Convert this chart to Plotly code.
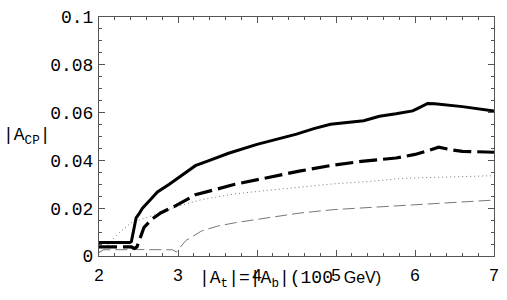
import plotly.graph_objects as go

# ---- data ----
solid_x = [2.0, 2.39, 2.41, 2.43, 2.45, 2.47, 2.51, 2.55, 2.65, 2.74, 2.89, 3.0, 3.22, 3.4, 3.64,
           4.0, 4.5, 4.72, 4.93, 5.35, 5.55, 5.76, 5.97, 6.03, 6.1, 6.16, 6.25, 6.4, 6.6, 7.0]
solid_y = [0.0056, 0.0056, 0.006, 0.0093, 0.013, 0.016, 0.0178, 0.020, 0.0235, 0.0268, 0.030, 0.0326,
           0.0378, 0.040, 0.043, 0.0467, 0.051, 0.0533, 0.0551, 0.0566, 0.0585, 0.0595, 0.0607,
           0.0617, 0.0628, 0.0638, 0.0637, 0.0633, 0.0625, 0.0607]

thick_dash_x = [2.0, 2.41, 2.45, 2.48, 2.51, 2.54, 2.57, 2.67, 2.78, 2.95, 3.22, 3.72, 4.14, 4.55,
                4.96, 5.35, 5.76, 6.0, 6.18, 6.3, 6.47, 6.6, 7.0]
thick_dash_y = [0.0038, 0.0038, 0.0032, 0.0038, 0.0065, 0.0093, 0.012, 0.0154, 0.018, 0.0207, 0.0256,
                0.030, 0.033, 0.0356, 0.038, 0.0397, 0.041, 0.0425, 0.0442, 0.0455, 0.0444, 0.0438, 0.0434]

dotted_x = [2.0, 2.04, 2.24, 2.41, 2.66, 2.99, 3.3, 3.72, 4.14, 4.55, 4.97, 5.43, 5.85, 6.26, 7.0]
dotted_y = [0.0015, 0.0022, 0.0093, 0.014, 0.0167, 0.0207, 0.0236, 0.026, 0.0275, 0.0289, 0.0302,
            0.0312, 0.0325, 0.0329, 0.0336]

thin_dash_x = [2.0, 2.06, 2.5, 2.93, 2.98, 3.1, 3.2, 3.3, 3.5, 3.72, 4.14, 4.55, 4.97, 5.43, 5.85, 6.26, 7.0]
thin_dash_y = [0.0015, 0.0026, 0.0027, 0.0026, 0.0017, 0.0065, 0.0085, 0.0105, 0.0125, 0.0139, 0.016,
               0.018, 0.0194, 0.0203, 0.0211, 0.022, 0.0234]

x_ticks = [2, 3, 4, 5, 6, 7]
y_ticks = [0, 0.02, 0.04, 0.06, 0.08, 0.1]
y_tick_text = ["0", "0.02", "0.04", "0.06", "0.08", "0.1"]

fig = go.Figure()
fig.add_trace(go.Scatter(x=dotted_x, y=dotted_y, mode="lines",
                         line=dict(color="#777777", width=1, dash="1px,3px")))
fig.add_trace(go.Scatter(x=thin_dash_x, y=thin_dash_y, mode="lines",
                         line=dict(color="#777777", width=1, dash="12px,5px")))
fig.add_trace(go.Scatter(x=thick_dash_x, y=thick_dash_y, mode="lines",
                         line=dict(color="black", width=3.2, dash="18px,6px")))
fig.add_trace(go.Scatter(x=solid_x, y=solid_y, mode="lines",
                         line=dict(color="black", width=3)))

axis_common = dict(showgrid=False, zeroline=False, showline=True, linecolor="#555555",
                   linewidth=1, mirror="ticks", ticks="inside", ticklen=6, tickwidth=1,
                   tickcolor="#555555")

fig.update_xaxes(range=[2, 7], tickvals=x_ticks, ticklabelstandoff=4,
                 tickfont=dict(family="Liberation Sans", size=17, color="black"),
                 minor=dict(dtick=0.2, ticks="inside", ticklen=3, tickcolor="#555555"),
                 **axis_common)
fig.update_yaxes(range=[0, 0.1], tickvals=y_ticks, ticktext=y_tick_text, ticklabelstandoff=1,
                 tickfont=dict(family="Liberation Mono", size=18, color="black"),
                 minor=dict(dtick=0.005, ticks="inside", ticklen=3, tickcolor="#555555"),
                 **axis_common)

fig.add_annotation(text="|A<sub>CP</sub>|", xref="paper", yref="paper", x=-0.2475, y=0.5,
                   xanchor="left", yanchor="middle", showarrow=False,
                   font=dict(family="Liberation Mono", size=18, color="black"))
fig.add_annotation(text="|A<sub>t</sub>|=|A<sub>b</sub>|(100 <span style='font-family:Liberation Sans;font-size:16px'>GeV)</span>",
                   xref="paper", yref="paper", x=0.4825, y=-0.098,
                   xanchor="center", yanchor="middle", showarrow=False,
                   font=dict(family="Liberation Mono", size=18, color="black"))

fig.update_layout(width=507, height=300, margin=dict(l=99, r=8, t=10, b=44),
                  paper_bgcolor="white", plot_bgcolor="white", showlegend=False)

fig.write_html("out.html", config={"displayModeBar": False},
               post_script="document.body.style.margin='0';document.body.style.padding='0';")
